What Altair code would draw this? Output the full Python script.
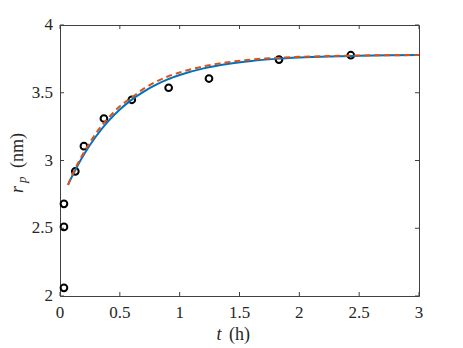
import altair as alt
import pandas as pd

# measured points
obs_t = [0.033, 0.033, 0.033, 0.128, 0.2, 0.367, 0.6, 0.908, 1.245, 1.83, 2.43]
obs_r = [2.06, 2.51, 2.68, 2.92, 3.106, 3.31, 3.448, 3.537, 3.605, 3.745, 3.777]

# fitted curves
fit_t = [0.067, 0.1, 0.15, 0.2, 0.3, 0.4, 0.5, 0.6, 0.7, 0.8, 0.9, 1.0, 1.2, 1.4,
         1.6, 1.8, 2.0, 2.25, 2.5, 2.75, 3.0]
blue_r = [2.82, 2.881, 2.967, 3.044, 3.177, 3.287, 3.376, 3.449, 3.509, 3.558, 3.599,
          3.631, 3.680, 3.713, 3.735, 3.750, 3.760, 3.768, 3.773, 3.776, 3.778]
orange_r = [2.82, 2.89, 2.98, 3.06, 3.20, 3.31, 3.40, 3.465, 3.53, 3.58, 3.62,
            3.65, 3.695, 3.725, 3.745, 3.757, 3.765, 3.771, 3.775, 3.777, 3.778]

x_ticks = [0, 0.5, 1, 1.5, 2, 2.5, 3]
y_ticks = [2, 2.5, 3, 3.5, 4]
x_labels = ["0", "0.5", "1", "1.5", "2", "2.5", "3"]
y_labels = ["2", "2.5", "3", "3.5", "4"]

W, H = 359, 271
FONT = "Times New Roman"
AX = "#404040"
TXT = "#262626"

obs = pd.DataFrame({"t": obs_t, "r": obs_r})
fit = pd.DataFrame({"t": fit_t, "blue": blue_r, "orange": orange_r})
xt = pd.DataFrame({"tx": x_ticks, "lab": x_labels})
yt = pd.DataFrame({"ty": y_ticks, "lab": y_labels})
one = pd.DataFrame({"a": [0]})

xs = alt.Scale(domain=[0, 3], nice=False, zero=False)
ys = alt.Scale(domain=[2, 4], nice=False, zero=False)

points = alt.Chart(obs).mark_point(shape="circle", filled=False, color="black",
                                   size=45, strokeWidth=2, opacity=1).encode(
    x=alt.X("t:Q", scale=xs, axis=None),
    y=alt.Y("r:Q", scale=ys, axis=None),
)

blue = alt.Chart(fit).mark_line(color="#0072BD", strokeWidth=2,
                                interpolate="monotone").encode(
    x=alt.X("t:Q", scale=xs, axis=None), y=alt.Y("blue:Q", scale=ys, axis=None))
orange = alt.Chart(fit).mark_line(color="#D95319", strokeWidth=2, strokeDash=[6, 4],
                                  interpolate="monotone").encode(
    x=alt.X("t:Q", scale=xs, axis=None), y=alt.Y("orange:Q", scale=ys, axis=None))

tick_style = dict(color=AX, strokeWidth=1)
xb = alt.Chart(xt).mark_rule(**tick_style).encode(
    x=alt.X("tx:Q", scale=xs, axis=None), y=alt.value(H), y2=alt.value(H - 4))
xtop = alt.Chart(xt).mark_rule(**tick_style).encode(
    x=alt.X("tx:Q", scale=xs, axis=None), y=alt.value(0), y2=alt.value(4))
yl = alt.Chart(yt).mark_rule(**tick_style).encode(
    y=alt.Y("ty:Q", scale=ys, axis=None), x=alt.value(0), x2=alt.value(4))
yr = alt.Chart(yt).mark_rule(**tick_style).encode(
    y=alt.Y("ty:Q", scale=ys, axis=None), x=alt.value(W), x2=alt.value(W - 4))

# tick labels
xlab = alt.Chart(xt).mark_text(font=FONT, fontSize=17, color=TXT, align="center",
                               baseline="middle").encode(
    x=alt.X("tx:Q", scale=xs, axis=None), y=alt.value(H + 17), text="lab:N")
ylab = alt.Chart(yt).mark_text(font=FONT, fontSize=17, color=TXT, align="right",
                               baseline="middle").encode(
    y=alt.Y("ty:Q", scale=ys, axis=None), x=alt.value(-7), text="lab:N")

# axis titles
xt_t = alt.Chart(one).mark_text(text="t", font=FONT, fontSize=18, fontStyle="italic",
                                align="center", baseline="alphabetic", color=TXT).encode(
    x=alt.value(159), y=alt.value(315))
xt_h = alt.Chart(one).mark_text(text="(h)", font=FONT, fontSize=18,
                                align="left", baseline="alphabetic", color=TXT).encode(
    x=alt.value(169), y=alt.value(315))
yt_r = alt.Chart(one).mark_text(text="r", font=FONT, fontSize=18, fontStyle="italic",
                                align="left", baseline="alphabetic", angle=270,
                                color=TXT).encode(
    x=alt.value(-37), y=alt.value(168))
yt_p = alt.Chart(one).mark_text(text="p", font=FONT, fontSize=13, fontStyle="italic",
                                align="left", baseline="alphabetic", angle=270,
                                color=TXT).encode(
    x=alt.value(-34), y=alt.value(158))
yt_nm = alt.Chart(one).mark_text(text="(nm)", font=FONT, fontSize=18,
                                 align="left", baseline="alphabetic", angle=270,
                                 color=TXT).encode(
    x=alt.value(-37), y=alt.value(143))

chart = alt.layer(points, blue, orange, xb, xtop, yl, yr, xlab, ylab,
                  xt_t, xt_h, yt_r, yt_p, yt_nm).properties(
    width=W, height=H,
    background="white",
    autosize=alt.AutoSizeParams(type="none"),
    padding={"left": 52, "top": 17, "right": 36, "bottom": 50},
).configure_view(stroke=AX, strokeWidth=1)

chart.save("out.html", embed_options={"renderer": "svg", "actions": False})
